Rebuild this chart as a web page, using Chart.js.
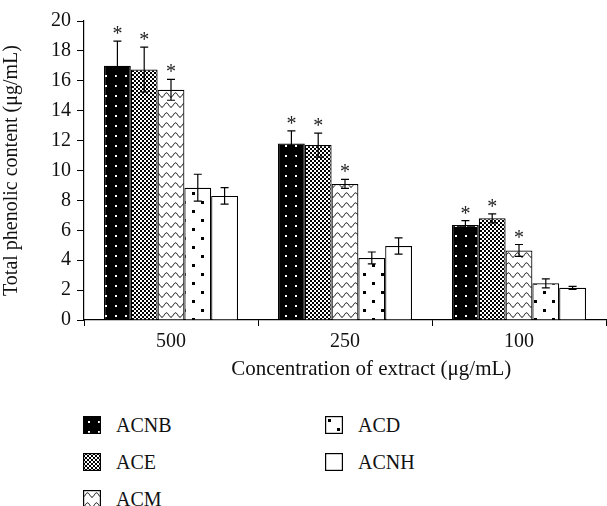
<!DOCTYPE html>
<html>
<head>
<meta charset="utf-8">
<script src="https://cdn.jsdelivr.net/npm/chart.js@4.4.1/dist/chart.umd.min.js"></script>
<style>
  body { margin: 0; background: #fff; font-family: "Liberation Serif", serif; }
  #wrap { position: absolute; left: 0; top: 0; width: 607px; height: 388px; }
  .item { position: absolute; height: 18px; font-size: 20px; line-height: 18px; color: #111; }
  .item canvas { position: absolute; left: 0; top: 0; }
  .item span { position: absolute; left: 33px; top: 0; white-space: nowrap; }
</style>
</head>
<body>
<div id="wrap"><canvas id="chart" width="607" height="388"></canvas></div>
<div id="legend"></div>
<script>
// Data
const categories = ["500", "250", "100"];
const seriesNames = ["ACNB", "ACE", "ACM", "ACD", "ACNH"];
const acnb = [17.0, 11.8, 6.35];
const ace = [16.75, 11.7, 6.8];
const acm = [15.4, 9.1, 4.65];
const acd = [8.85, 4.15, 2.45];
const acnh = [8.3, 4.95, 2.15];
const acnbErr = [1.65, 0.85, 0.3];
const aceErr = [1.5, 0.8, 0.3];
const acmErr = [0.7, 0.3, 0.4];
const acdErr = [0.9, 0.4, 0.3];
const acnhErr = [0.55, 0.55, 0.1];
// Series marked with * (significant)
const starred = [true, true, true, false, false];
const yTicks = { min: 0, max: 20, step: 2 };

const FONT = "Liberation Serif";

// Fill patterns (black & white hatches like the print figure)
function makePattern(kind) {
    const c = document.createElement("canvas");
    const g = c.getContext("2d");
    if (kind === "ACNB") {
        c.width = 10; c.height = 10;
        g.fillStyle = "#000"; g.fillRect(0, 0, 10, 10);
        g.fillStyle = "#fff"; g.fillRect(5, 5, 2, 2);
    } else if (kind === "ACE") {
        c.width = 4; c.height = 4;
        g.fillStyle = "#000"; g.fillRect(0, 0, 4, 4);
        g.fillStyle = "#fff"; g.fillRect(0, 0, 2, 2); g.fillRect(2, 2, 2, 2);
    } else if (kind === "ACM") {
        c.width = 9; c.height = 10;
        g.fillStyle = "#fff"; g.fillRect(0, 0, 9, 10);
        g.strokeStyle = "#000"; g.lineWidth = 1;
        g.beginPath();
        for (let x = 0; x <= 9; x += 0.5) {
            const y = 5 + 2.2 * Math.cos(x / 9 * Math.PI * 2);
            if (x === 0) g.moveTo(x, y); else g.lineTo(x, y);
        }
        g.stroke();
    } else if (kind === "ACD") {
        c.width = 18; c.height = 18;
        g.fillStyle = "#fff"; g.fillRect(0, 0, 18, 18);
        g.fillStyle = "#000"; g.fillRect(3, 3, 3, 3); g.fillRect(12, 12, 3, 3);
    } else {
        c.width = 4; c.height = 4;
        g.fillStyle = "#fff"; g.fillRect(0, 0, 4, 4);
    }
    return document.getElementById("chart").getContext("2d").createPattern(c, "repeat");
}

const values = [acnb, ace, acm, acd, acnh];
const errors = [acnbErr, aceErr, acmErr, acdErr, acnhErr];

// Draw error bars and asterisks over the bars
const errorBars = {
    id: "errorBars",
    afterDatasetsDraw(chart) {
        const ctx = chart.ctx;
        const y = chart.scales.y;
        ctx.save();
        ctx.strokeStyle = "#000";
        ctx.fillStyle = "#222";
        ctx.lineWidth = 1.2;
        ctx.font = '20px "' + FONT + '"';
        ctx.textAlign = "center";
        ctx.textBaseline = "alphabetic";
        chart.data.datasets.forEach((ds, i) => {
            const meta = chart.getDatasetMeta(i);
            meta.data.forEach((bar, j) => {
                const v = ds.data[j], e = errors[i][j];
                const top = y.getPixelForValue(v + e);
                const bot = y.getPixelForValue(v - e);
                const x = bar.x;
                ctx.beginPath();
                ctx.moveTo(x, top); ctx.lineTo(x, bot);
                ctx.moveTo(x - 4, top); ctx.lineTo(x + 4, top);
                ctx.moveTo(x - 4, bot); ctx.lineTo(x + 4, bot);
                ctx.stroke();
                if (starred[i]) ctx.fillText("*", x, top - 1);
            });
        });
        ctx.restore();
    }
};

const patterns = seriesNames.map(makePattern);

new Chart(document.getElementById("chart"), {
    type: "bar",
    data: {
        labels: categories,
        datasets: seriesNames.map((name, i) => ({
            label: name,
            data: values[i],
            backgroundColor: patterns[i],
            borderColor: "#000",
            borderWidth: 1.2,
            categoryPercentage: 0.77,
            barPercentage: 1.0
        }))
    },
    options: {
        responsive: false,
        animation: false,
        layout: { padding: { top: 21, right: 1, bottom: 2, left: 0 } },
        plugins: { legend: { display: false }, tooltip: { enabled: false } },
        scales: {
            x: {
                grid: { display: true, drawOnChartArea: false, drawTicks: true, tickLength: 6, color: "#000", offset: true },
                border: { color: "#000", width: 1.2 },
                ticks: { color: "#111", font: { family: FONT, size: 20 }, padding: 4 },
                // leading spaces push the title a little right, as in the figure
                title: { display: true, text: "\u2003\u2003\u2002Concentration of extract (μg/mL)", color: "#111", font: { family: FONT, size: 21 } },
                afterFit: (s) => { s.height = 66; }
            },
            y: {
                min: yTicks.min, max: yTicks.max,
                grid: { display: true, drawOnChartArea: false, drawTicks: true, tickLength: 7, color: "#000" },
                border: { color: "#000", width: 1.2 },
                ticks: { stepSize: yTicks.step, color: "#111", font: { family: FONT, size: 20 }, padding: 6 },
                title: { display: true, text: "Total phenolic content (μg/mL)", color: "#111", font: { family: FONT, size: 20 }, padding: 0 },
                afterFit: (s) => { s.width = 84; }
            }
        }
    },
    plugins: [errorBars]
});

// Legend in two columns under the chart
const legendPos = [[83, 416], [83, 453], [83, 490], [325, 416], [325, 453]];
const legend = document.getElementById("legend");
seriesNames.forEach((name, i) => {
    const item = document.createElement("div");
    item.className = "item";
    item.style.left = legendPos[i][0] + "px";
    item.style.top = legendPos[i][1] + "px";
    const sw = document.createElement("canvas");
    sw.width = 18; sw.height = 18;
    const g = sw.getContext("2d");
    g.fillStyle = patterns[i];
    g.fillRect(0, 0, 18, 18);
    g.strokeStyle = "#000"; g.lineWidth = 1.2;
    g.strokeRect(0.6, 0.6, 16.8, 16.8);
    const label = document.createElement("span");
    label.textContent = name;
    item.appendChild(sw); item.appendChild(label);
    legend.appendChild(item);
});
</script>
</body>
</html>
